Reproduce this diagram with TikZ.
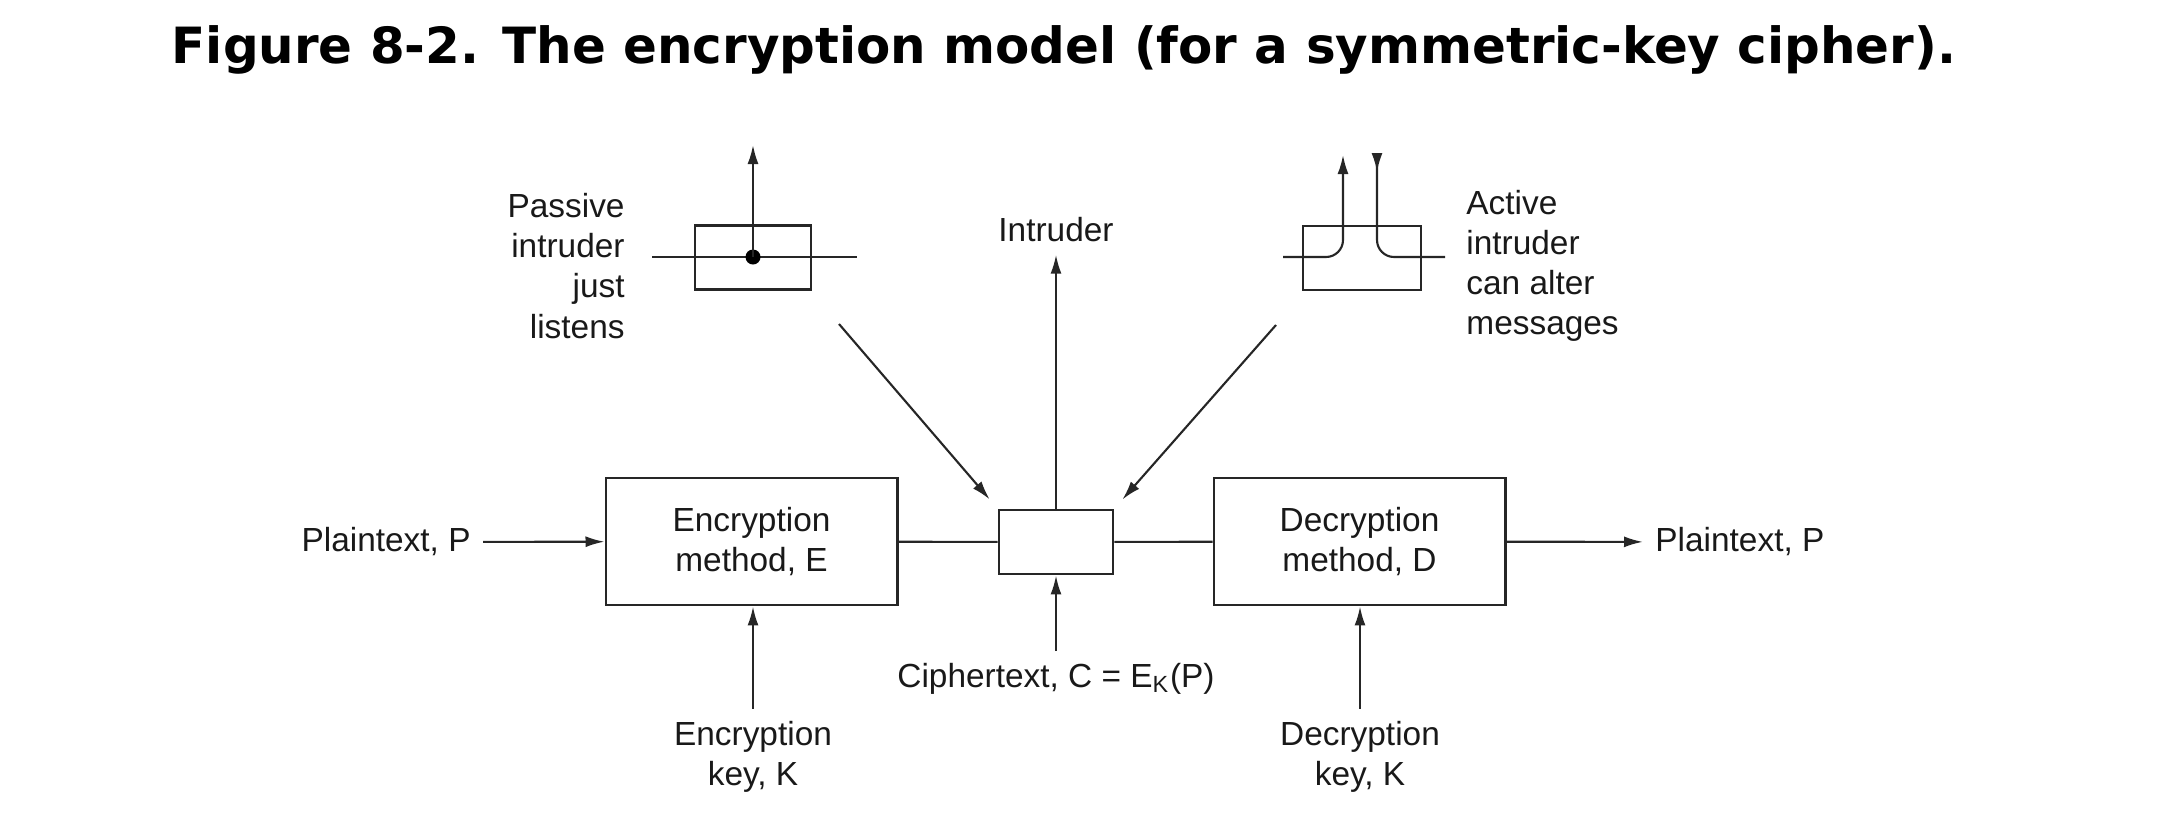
\documentclass[tikz,border=0pt]{standalone}
\usepackage{fontspec}
\setmainfont{Liberation Sans}
\newfontfamily\titlefont{DejaVu Sans}
\usetikzlibrary{positioning, arrows.meta}

\begin{document}
\begin{tikzpicture}[x=0.01cm,y=-0.01cm]
    \tikzset{edge/.style = {-{Latex[length=1.9mm,width=1.1mm]}, line width=0.6pt, draw=black!85}}
    \tikzset{backedge/.style = {{Latex[length=1.9mm,width=1.1mm,reversed]}-, line width=0.6pt, draw=black!85}}
    \tikzset{plain/.style = {line width=0.6pt, draw=black!85}}
    \tikzset{block/.style = {draw=black!85, line width=0.8pt, fill=white, align=center}}
    \tikzset{lbl/.style = {font=\fontsize{9.5}{11.4}\selectfont, text=black!90}}

    \useasboundingbox (0,0) rectangle (2181,836);

    % title
    \node[font=\titlefont\bfseries\fontsize{14.2}{16}\selectfont] (title) at (1064,50)
        {Figure 8-2. The encryption model (for a symmetric-key cipher).};

    % encryption / decryption
    \node[block, lbl, minimum width=2.91cm, minimum height=1.27cm] (enc) at (751.5,541.5) {Encryption\\method, E};
    \node[block, lbl, minimum width=2.91cm, minimum height=1.27cm] (dec) at (1359.5,541.5) {Decryption\\method, D};
    \node[block, minimum width=1.14cm, minimum height=0.64cm] (cbox) at (1056,542) {};

    \node[lbl, anchor=east] (ptin) at (483,542) {Plaintext, P};
    \node[lbl, anchor=west] (ptout) at (1643,542) {Plaintext, P};
    \draw[edge] (ptin) -- (enc);
    \draw[edge] (dec) -- (ptout);
    \draw[plain] (enc) -- (cbox);
    \draw[plain] (cbox) -- (dec);

    % keys
    \node[lbl, align=center] (ekey) at (753,757) {Encryption\\key, K};
    \node[lbl, align=center] (dkey) at (1360,757) {Decryption\\key, K};
    \draw[edge] (ekey.north) -- (enc.south -| ekey.north);
    \draw[edge] (dkey.north) -- (dec.south -| dkey.north);

    % ciphertext and intruder
    \node[lbl] (ctxt) at (1056,679) {Ciphertext, C = E\textsubscript{K}(P)};
    \node[lbl] (intr) at (1056,230) {Intruder};
    \draw[edge] (ctxt) -- (cbox);
    \draw[edge] (cbox) -- (intr);

    % passive intruder
    \node[block, minimum width=1.16cm, minimum height=0.64cm] (pbox) at (753,257.5) {};
    \coordinate (pl) at (652,257);
    \coordinate (pr) at (857,257);
    \coordinate (pup) at (753,145);
    \draw[plain] (pl) -- (pr);
    \node[circle, fill=black, inner sep=0pt, minimum size=0.15cm] (pdot) at (753,257) {};
    \draw[edge] (pdot.center) -- (pup);
    \node[lbl, align=right, anchor=east] (ptxt) at (637,266) {Passive\\intruder\\just\\listens};

    % active intruder
    \node[block, minimum width=1.18cm, minimum height=0.64cm] (abox) at (1362,258) {};
    \coordinate (al) at (1283,257);
    \coordinate (ar) at (1445,257);
    \coordinate (aup) at (1343,155);
    \coordinate (adown) at (1377,153);
    \draw[edge, rounded corners=0.17cm] (al) -- (1343,257) -- (aup);
    \draw[backedge, rounded corners=0.17cm] (adown) -- (1377,257) -- (ar);
    \node[lbl, align=left, anchor=west] (atxt) at (1454,266) {Active\\intruder\\can alter\\messages};

    % taps into the channel
    \coordinate (ptap) at (839,324);
    \coordinate (atap) at (1276,325);
    \draw[edge, shorten >=0.12cm] (ptap) -- (cbox.north west);
    \draw[edge, shorten >=0.12cm] (atap) -- (cbox.north east);
\end{tikzpicture}
\end{document}
